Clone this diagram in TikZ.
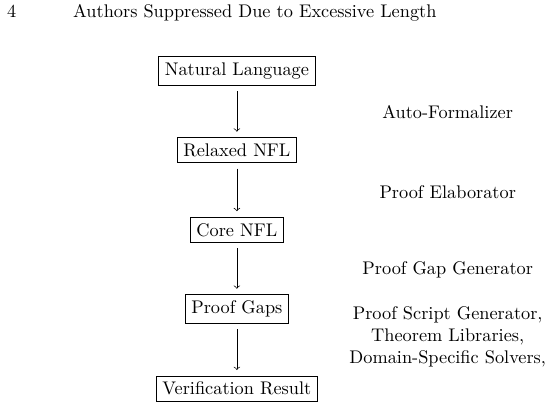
\documentclass[tikz,border=0pt]{standalone}
\begin{document}
\begin{tikzpicture}[stage/.style={draw, align=center, inner sep=3.3pt}, tool/.style={align=center}]
\useasboundingbox (-4.55,1.364) rectangle (6.13,-6.49);
\node[anchor=base west, inner sep=0pt] (pagenum) at (-4.42,1.02) {4};
\node[anchor=base west, inner sep=0pt] (runhead) at (-3.15,1.02) {Authors Suppressed Due to Excessive Length};
\node[stage] (natural) at (0,0) {Natural Language};
\node[stage] (relaxed) at (0,-1.52) {Relaxed NFL};
\node[stage] (core) at (0,-3.05) {Core NFL};
\node[stage] (gaps) at (0,-4.57) {Proof Gaps};
\node[stage] (result) at (0,-6.10) {Verification Result};
\node[tool] (formalizer) at (4.05,-0.79) {Auto-Formalizer};
\node[tool] (elaborator) at (4.05,-2.32) {Proof Elaborator};
\node[tool] (gapgen) at (4.05,-3.82) {Proof Gap Generator};
\node[tool] (solvers) at (4.05,-5.11) {Proof Script Generator,\\Theorem Libraries,\\Domain-Specific Solvers,};
\draw[->, shorten <=3pt, shorten >=3pt] (natural) -- (relaxed);
\draw[->, shorten <=3pt, shorten >=3pt] (relaxed) -- (core);
\draw[->, shorten <=3pt, shorten >=3pt] (core) -- (gaps);
\draw[->, shorten <=3pt, shorten >=3pt] (gaps) -- (result);
\end{tikzpicture}
\end{document}
